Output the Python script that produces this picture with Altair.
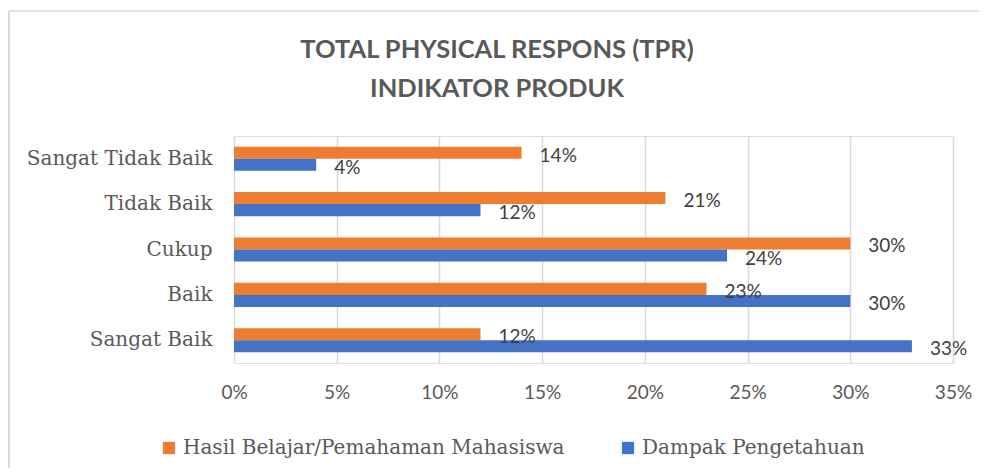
import altair as alt
import pandas as pd

categories = ["Sangat Tidak Baik", "Tidak Baik", "Cukup", "Baik", "Sangat Baik"]
series = ["Hasil Belajar/Pemahaman Mahasiswa", "Dampak Pengetahuan"]
hasil = [14, 21, 30, 23, 12]
dampak = [4, 12, 24, 30, 33]
colors = ["#ED7D31", "#4472C4"]
ticks = [0, 5, 10, 15, 20, 25, 30, 35]
title_lines = ["TOTAL PHYSICAL RESPONS (TPR)", "INDIKATOR PRODUK"]

rows = []
for c, h, d in zip(categories, hasil, dampak):
    rows.append({"cat": c, "series": series[0], "value": h})
    rows.append({"cat": c, "series": series[1], "value": d})
df = pd.DataFrame(rows)

sans = "Lato"
serif = "DejaVu Serif"

y_enc = alt.Y("cat:N", sort=categories,
              scale=alt.Scale(paddingInner=0.47, paddingOuter=0.235),
              axis=alt.Axis(title=None, labelFont=serif, labelFontSize=20, labelColor="#595959",
                            labelPadding=22, ticks=False, domain=False, labelLimit=300))
x_enc = alt.X("value:Q", scale=alt.Scale(domain=[0, 35], nice=False),
              axis=alt.Axis(title=None, values=ticks, labelExpr="datum.value + '%'",
                            labelFont=sans, labelFontSize=19, labelColor="#595959",
                            labelPadding=20, ticks=False, domain=False, labelFlush=False,
                            gridColor="#d9d9d9", gridWidth=1.5))
yoff = alt.YOffset("series:N", sort=series, scale=alt.Scale(domain=series))

base = alt.Chart(df)

bars = base.mark_bar().encode(
    y=y_enc, x=x_enc, yOffset=yoff,
    color=alt.Color("series:N", sort=series,
                    scale=alt.Scale(domain=series, range=colors),
                    legend=alt.Legend(title=None, orient="none", direction="horizontal",
                                      legendX=-75, legendY=302,
                                      symbolType="square", symbolSize=150, symbolStrokeWidth=0,
                                      labelFont=serif, labelFontSize=20, labelColor="#595959",
                                      columnPadding=53, labelLimit=500, symbolOffset=0))
)

labels = base.transform_calculate(lbl="datum.value + '%'").mark_text(
    align="left", baseline="middle", dx=18, dy=3, font=sans, fontSize=19, color="#404040"
).encode(y=alt.Y("cat:N", sort=categories), x="value:Q", yOffset=yoff, text="lbl:N")

tdf = pd.DataFrame({"t": title_lines, "i": [0, 1]})
title1 = alt.Chart(tdf).transform_filter("datum.i == 0").mark_text(
    font=sans, fontSize=25.5, fontWeight="bold", color="#595959", align="center", baseline="middle"
).encode(text="t:N", x=alt.value(263), y=alt.value(-86))
title2 = alt.Chart(tdf).transform_filter("datum.i == 1").mark_text(
    font=sans, fontSize=25.5, fontWeight="bold", color="#595959", align="center", baseline="middle"
).encode(text="t:N", x=alt.value(263), y=alt.value(-47))

border_top = alt.Chart(pd.DataFrame({"a": [0]})).mark_rule(color="#d9d9d9", strokeWidth=1.5).encode(
    x=alt.value(-225), x2=alt.value(800), y=alt.value(-125))
border_left = alt.Chart(pd.DataFrame({"a": [0]})).mark_rule(color="#d9d9d9", strokeWidth=2).encode(
    x=alt.value(-225), y=alt.value(-125), y2=alt.value(345))

chart = alt.layer(bars, labels, title1, title2, border_top, border_left).properties(
    width=719, height=227,
    autosize=alt.AutoSizeParams(type="none"),
    padding={"left": 226, "top": 128, "right": 26, "bottom": 105},
).configure_view(stroke=None).configure(background="white")

chart.save("out.html", embed_options={"renderer": "svg", "actions": False})
